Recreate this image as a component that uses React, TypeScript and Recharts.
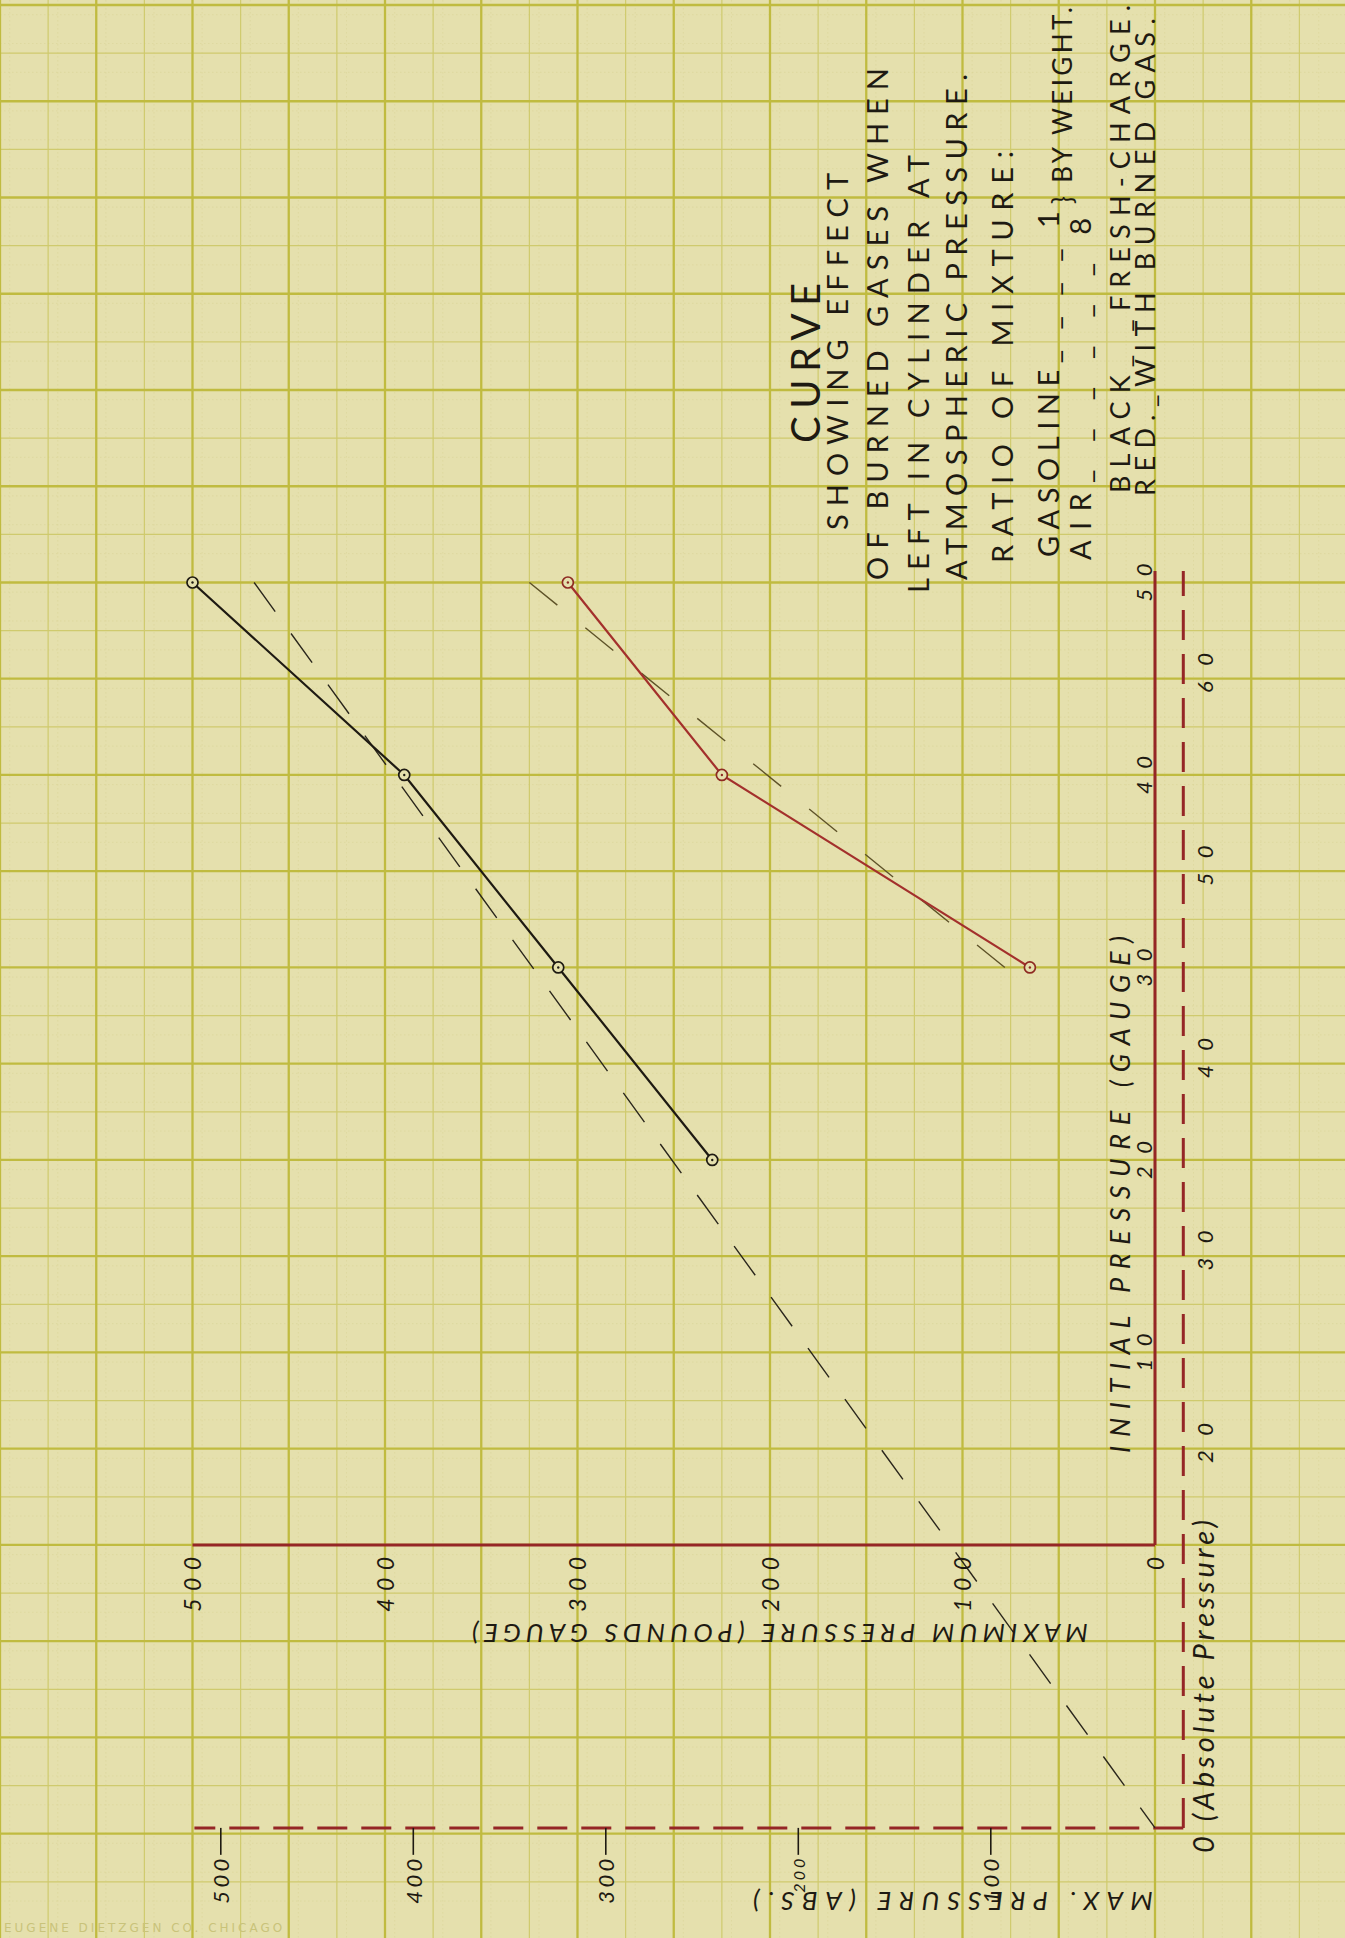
import {
  ScatterChart,
  Scatter,
  XAxis,
  YAxis,
  CartesianGrid,
  ReferenceLine,
  ReferenceDot,
} from "recharts";

// atmospheric pressure, lbs
const ATM = 14.7;

// BLACK: fresh charge (initial pressure gauge -> max pressure gauge)
const blackInitial = [50, 40, 30, 20];
const blackMax = [500, 390, 310, 230];

// RED: with burned gas
const redInitial = [50, 40, 30];
const redMax = [305, 225, 65];

// dashed guide lines
const blackGuideInitial = [50, -ATM];
const blackGuideMax = [468, 0];
const redGuideInitial = [50, 30];
const redGuideMax = [325, 78];

// tick labels
const gaugeInitialTicks = [10, 20, 30, 40, 50];
const absInitialTicks = [20, 30, 40, 50, 60];
const gaugeMaxTicks = [0, 100, 200, 300, 400, 500];
const absMaxTicks = [100, 200, 300, 400, 500];

const titleLines = [
  "CURVE",
  "SHOWING  EFFECT",
  "OF BURNED GASES WHEN",
  "LEFT IN CYLINDER AT",
  "ATMOSPHERIC PRESSURE.",
  "RATIO  OF  MIXTURE:",
  "GASOLINE_ _ _ _ 1",
  "AIR_ _ _ _ _ _ 8",
  "} BY WEIGHT.",
  "BLACK_ _FRESH-CHARGE.",
  "RED._WITH BURNED GAS.",
];

// where each title line starts (max, initial), its length and size
const titleLayout = [
  { m: 181.8, g: 57.25, len: 160, size: 40 },
  { m: 165.7, g: 52.73, len: 357, size: 29 },
  { m: 144.9, g: 50.13, len: 512, size: 29 },
  { m: 123.6, g: 49.45, len: 438, size: 29 },
  { m: 103.4, g: 50.13, len: 506, size: 29 },
  { m: 79.5, g: 51.01, len: 412, size: 29 },
  { m: 56.1, g: 51.32, len: 346, size: 29 },
  { m: 39.0, g: 51.17, len: 342, size: 29 },
  { m: 48.3, g: 69.66, len: 197, size: 26 },
  { m: 18.7, g: 54.65, len: 488, size: 27 },
  { m: 5.7, g: 54.49, len: 478, size: 27 },
];

const INK = "#1e1a12";
const RED = "#952626";
const PAPER = "#e5e0ad";

const toPoints = (ini: number[], max: number[]) =>
  ini.map((g, i) => ({ initial: g, max: max[i] }));

const range = (from: number, to: number, step: number) => {
  const out: number[] = [];
  for (let v = from; v <= to + 1e-9; v += step) out.push(Math.round(v * 100) / 100);
  return out;
};

const majorX = range(-100, 600, 50);
const minorX = range(-75, 575, 50);
const fineX = range(-95, 595, 5).filter((v) => v % 25 !== 0);
const majorY = range(-20, 80, 5);
const minorY = range(-17.5, 77.5, 5);
const fineY = range(-20, 80, 0.5).filter((v) => Math.abs(v / 2.5 - Math.round(v / 2.5)) > 0.01);

const Label = ({
  cx,
  cy,
  text,
  rotate = -90,
  anchor = "middle",
  size = 24,
  length,
  italic = false,
}: any) => (
  <text
    x={cx}
    y={cy}
    transform={`rotate(${rotate} ${cx} ${cy})`}
    textAnchor={anchor}
    dominantBaseline="central"
    fontFamily="Lato, 'Open Sans', sans-serif"
    fontSize={size}
    fontStyle={italic ? "italic" : "normal"}
    fill={INK}
    textLength={length}
    lengthAdjust="spacing"
  >
    {text}
  </text>
);

const note = (key: string, m: number, g: number, opts: any) => (
  <ReferenceDot
    key={key}
    x={m}
    y={g}
    r={0}
    ifOverflow="visible"
    shape={(p: any) => <Label cx={p.cx} cy={p.cy} {...opts} />}
  />
);

const OpenDot = ({ cx, cy, color }: any) => (
  <g>
    <circle cx={cx} cy={cy} r={5.5} fill={PAPER} stroke={color} strokeWidth={1.7} />
    <circle cx={cx} cy={cy} r={1.2} fill={color} />
  </g>
);

export default function App() {
  return (
    <div
      style={{
        position: "absolute",
        left: 0,
        top: 0,
        width: 1345,
        height: 1938,
        background: PAPER,
        overflow: "hidden",
      }}
    >
      <ScatterChart
        width={1345}
        height={1938}
        margin={{ top: 0, right: 0, bottom: 0, left: 0 }}
      >
        <XAxis
          type="number"
          dataKey="max"
          domain={[-98.7, 600]}
          reversed
          hide
          allowDataOverflow
        />
        <YAxis
          type="number"
          dataKey="initial"
          domain={[-20.42, 80.26]}
          hide
          allowDataOverflow
        />

        {/* graph paper */}
        <CartesianGrid
          verticalValues={fineX}
          horizontalValues={fineY}
          stroke="#d6d192"
          strokeWidth={0.8}
          strokeDasharray="1.5 2.5"
          strokeOpacity={0.6}
        />
        <CartesianGrid
          verticalValues={minorX}
          horizontalValues={minorY}
          stroke="#cfca6e"
          strokeWidth={1.2}
        />
        <CartesianGrid
          verticalValues={majorX}
          horizontalValues={majorY}
          stroke="#c0bb40"
          strokeWidth={2.3}
        />

        {/* gauge axes (solid red) */}
        <ReferenceLine
          segment={[{ x: 0, y: 0 }, { x: 0, y: 50.6 }]}
          stroke={RED}
          strokeWidth={3}
        />
        <ReferenceLine
          segment={[{ x: 0, y: 0 }, { x: 500, y: 0 }]}
          stroke={RED}
          strokeWidth={3}
        />
        {/* absolute axes (dashed red) */}
        <ReferenceLine
          segment={[{ x: -ATM, y: -ATM }, { x: -ATM, y: 50.6 }]}
          stroke={RED}
          strokeWidth={3}
          strokeDasharray="30 14"
        />
        <ReferenceLine
          segment={[{ x: -ATM, y: -ATM }, { x: 499, y: -ATM }]}
          stroke={RED}
          strokeWidth={3}
          strokeDasharray="30 14"
        />
        {absMaxTicks.map((v) => (
          <ReferenceLine
            key={`amt${v}`}
            segment={[{ x: v - ATM, y: -ATM }, { x: v - ATM, y: -16.1 }]}
            stroke={INK}
            strokeWidth={1.6}
          />
        ))}

        <Scatter
          data={toPoints(blackGuideInitial, blackGuideMax)}
          line={{ stroke: "#2a261c", strokeWidth: 1.4, strokeDasharray: "36 27" }}
          shape={() => <g />}
          isAnimationActive={false}
        />
        <Scatter
          data={toPoints(redGuideInitial, redGuideMax)}
          line={{ stroke: "#5e5228", strokeWidth: 1.4, strokeDasharray: "36 36" }}
          shape={() => <g />}
          isAnimationActive={false}
        />
        <Scatter
          data={toPoints(blackInitial, blackMax)}
          line={{ stroke: INK, strokeWidth: 2.2 }}
          shape={(p: any) => <OpenDot cx={p.cx} cy={p.cy} color={INK} />}
          isAnimationActive={false}
        />
        <Scatter
          data={toPoints(redInitial, redMax)}
          line={{ stroke: "#a3302c", strokeWidth: 2.2 }}
          shape={(p: any) => <OpenDot cx={p.cx} cy={p.cy} color="#8e2a22" />}
          isAnimationActive={false}
        />

        {/* tick labels */}
        {gaugeInitialTicks.map((v) =>
          note(`gi${v}`, 6, v, { text: String(v), size: 22, length: 38, italic: true })
        )}
        {absInitialTicks.map((v) =>
          note(`ai${v}`, -25.5, v - ATM, { text: String(v), size: 22, length: 40, italic: true })
        )}
        {gaugeMaxTicks.map((v) =>
          note(`gm${v}`, v, -0.62, {
            text: String(v),
            size: 23,
            anchor: "end",
            length: v === 0 ? undefined : 55,
            italic: true,
          })
        )}
        {absMaxTicks.map((v) =>
          note(`am${v}`, v - ATM, -16.3, {
            text: String(v),
            size: v === 200 ? 16 : 22,
            anchor: "end",
            length: v === 200 ? 34 : 45,
            italic: true,
          })
        )}

        {/* axis titles */}
        {note("xt", 18.7, 4.78, {
          text: "INITIAL PRESSURE (GAUGE)",
          size: 27,
          anchor: "start",
          length: 517,
          italic: true,
        })}
        {note("abs0", -24.9, -16.0, {
          text: "0 (Absolute Pressure)",
          size: 29,
          anchor: "start",
          length: 333,
          italic: true,
        })}
        {note("yt", 34.8, -4.62, {
          text: "MAXIMUM PRESSURE (POUNDS GAUGE)",
          size: 26,
          anchor: "start",
          rotate: 180,
          length: 616,
          italic: true,
        })}
        {note("yt2", 1.0, -18.55, {
          text: "MAX. PRESSURE (ABS.)",
          size: 26,
          anchor: "start",
          rotate: 180,
          length: 400,
          italic: true,
        })}

        {/* title block */}
        {titleLines.map((t, i) =>
          note(`t${i}`, titleLayout[i].m, titleLayout[i].g, {
            text: t,
            size: titleLayout[i].size,
            anchor: "start",
            length: titleLayout[i].len,
          })
        )}
      </ScatterChart>
      <div
        style={{
          position: "absolute",
          left: 4,
          top: 1921,
          fontFamily: "'DejaVu Sans', sans-serif",
          fontSize: 12,
          lineHeight: "14px",
          letterSpacing: 3,
          color: "#c9c37a",
          whiteSpace: "nowrap",
        }}
      >
        EUGENE DIETZGEN CO. CHICAGO
      </div>
    </div>
  );
}
